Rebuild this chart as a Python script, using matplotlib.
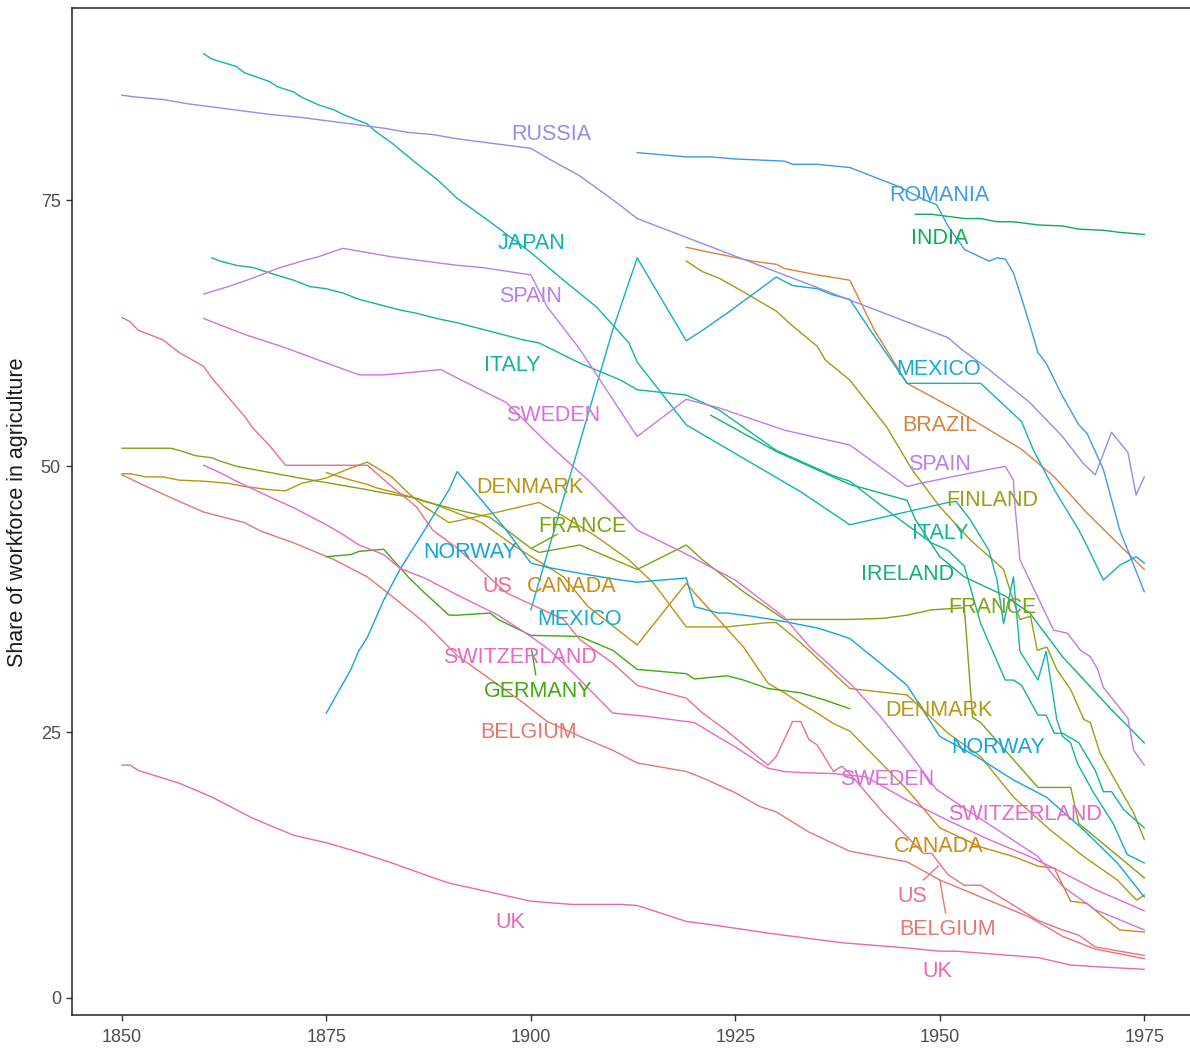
import matplotlib
matplotlib.use("Agg")
import matplotlib.pyplot as plt
from matplotlib.colors import to_rgb

plt.rcParams['font.family'] = ['Liberation Sans', 'DejaVu Sans']

# share of workforce in agriculture
belgium_years = [1850, 1853, 1857, 1860, 1865, 1867, 1871, 1876, 1880, 1883, 1887, 1891, 1899, 1902, 1906, 1910,
                 1913, 1919, 1921, 1925, 1928, 1930, 1934, 1939, 1946, 1950, 1955, 1961, 1965, 1969, 1975]
belgium_share = [49.2, 48.1, 46.7, 45.7, 44.7, 43.9, 42.8, 41.2, 39.6, 37.8, 35.3, 32.2, 27.8, 26.0, 24.6, 23.3,
                 22.1, 21.3, 20.7, 19.3, 18.0, 17.5, 15.6, 13.8, 12.8, 11.1, 9.5, 7.6, 5.8, 4.6, 3.7]

brazil_years = [1919, 1922, 1924, 1927, 1930, 1931, 1933, 1935, 1939, 1942, 1946, 1952, 1960, 1964, 1968, 1975]
brazil_share = [70.6, 70.1, 69.8, 69.3, 69.0, 68.6, 68.3, 68.0, 67.5, 62.8, 57.8, 55.3, 51.6, 49.0, 45.6, 40.3]

canada_years = [1875, 1878, 1880, 1881, 1883, 1885, 1888, 1891, 1894, 1898, 1904, 1907, 1913, 1919, 1920, 1926,
                1929, 1931, 1933, 1935, 1937, 1939, 1946, 1950, 1955, 1959, 1962, 1964, 1966, 1968, 1970, 1972, 1975]
canada_share = [49.4, 48.7, 48.3, 48.0, 47.6, 47.2, 46.5, 45.6, 44.7, 42.5, 39.6, 36.8, 33.2, 39.0, 38.1, 33.0,
                29.6, 28.7, 27.7, 26.8, 25.8, 25.1, 19.6, 16.0, 14.2, 13.3, 12.4, 12.2, 9.1, 8.9, 7.6, 6.4, 6.2]

denmark_years = [1850, 1851, 1853, 1855, 1857, 1860, 1863, 1865, 1868, 1870, 1872, 1875, 1877.5, 1880, 1883, 1885,
                 1887, 1890, 1896, 1901, 1904, 1908, 1912, 1915, 1919, 1924, 1929, 1930, 1933, 1939, 1946, 1951,
                 1955, 1959, 1963.5, 1967.6, 1971.7, 1973.3, 1974.1, 1975]
denmark_share = [49.3, 49.3, 49.0, 49.0, 48.7, 48.6, 48.4, 48.1, 47.8, 47.7, 48.4, 48.9, 49.7, 50.4, 49.0, 47.5,
                 46.2, 44.7, 45.7, 46.6, 45.3, 43.4, 41.2, 39.0, 34.9, 34.9, 35.3, 35.3, 33.4, 29.1, 28.5, 24.9,
                 22.7, 18.9, 15.8, 13.3, 11.1, 9.8, 9.2, 9.7]

finland_years = [1919, 1921, 1923, 1926, 1930, 1932, 1935, 1936, 1939, 1943.5, 1946.6, 1950, 1953.7, 1957.8, 1958.8,
                 1959.8, 1961.1, 1961.9, 1963.1, 1964.3, 1966, 1967.6, 1968.4, 1969.6, 1971.2, 1973.7, 1975]
finland_share = [69.3, 68.3, 67.7, 66.4, 64.6, 63.2, 61.3, 60.0, 58.1, 53.7, 49.7, 46.2, 43.1, 40.3, 37.8,
                 35.6, 35.9, 32.7, 33.0, 30.9, 29.0, 26.2, 25.9, 23.0, 20.8, 17.4, 14.9]

france_years = [1850, 1856, 1857, 1859, 1861, 1862, 1864, 1871, 1880, 1882, 1886, 1887, 1891, 1895, 1900, 1901, 1906,
                1913, 1919, 1921, 1926, 1931, 1939, 1943, 1946, 1949, 1953, 1954, 1955, 1962, 1966, 1967, 1975]
france_share = [51.7, 51.7, 51.5, 51.0, 50.8, 50.5, 50.0, 49.0, 47.8, 47.5, 47.0, 46.7, 45.9, 45.2, 42.3, 41.9, 42.6,
                40.3, 42.6, 41.2, 38.2, 35.6, 35.6, 35.7, 36.0, 36.5, 36.7, 26.4, 25.9, 19.8, 19.8, 16.4, 11.3]

germany_years = [1875, 1878, 1879, 1882, 1885, 1887, 1890, 1891, 1895, 1896, 1900, 1906, 1910, 1913, 1919, 1920,
                 1924, 1926, 1929, 1933, 1936, 1939]
germany_share = [41.5, 41.7, 42.0, 42.2, 39.6, 38.1, 36.0, 36.0, 36.2, 35.6, 34.1, 34.0, 32.7, 30.9, 30.5, 30.0,
                 30.3, 29.9, 29.1, 28.7, 28.0, 27.2]

india_years = [1947, 1949, 1953, 1955, 1957, 1959, 1962, 1965, 1967, 1970, 1972, 1975]
india_share = [73.7, 73.7, 73.3, 73.3, 73.0, 73.0, 72.7, 72.6, 72.3, 72.2, 72.0, 71.8]

ireland_years = [1922, 1930, 1939, 1946, 1947, 1950, 1953, 1958, 1961, 1965, 1968, 1971, 1975]
ireland_share = [54.8, 51.4, 48.3, 46.8, 45.0, 41.5, 39.6, 37.8, 36.2, 32.1, 29.6, 27.1, 24.0]

italy_years = [1861, 1862, 1864, 1866, 1868, 1871, 1873, 1875, 1877, 1879, 1881, 1884, 1886, 1888.5, 1891, 1895,
               1899, 1901, 1906, 1911, 1913, 1919, 1923, 1930, 1937, 1939, 1944, 1949, 1951, 1953, 1955, 1958,
               1959, 1960, 1962, 1963, 1964, 1965, 1967, 1969, 1970, 1971, 1972.5, 1975]
italy_share = [69.6, 69.3, 68.9, 68.7, 68.2, 67.5, 66.9, 66.7, 66.3, 65.7, 65.3, 64.7, 64.4, 63.9, 63.5, 62.7,
               61.9, 61.6, 59.7, 58.1, 57.2, 56.7, 55.3, 51.5, 49.1, 48.6, 45.6, 42.8, 42.1, 40.6, 35.2, 29.9,
               29.9, 29.4, 26.6, 26.6, 24.9, 24.9, 24.0, 21.4, 19.4, 19.4, 17.7, 16.0]

japan_years = [1860, 1861, 1864, 1865, 1868, 1869, 1871, 1872, 1874, 1876, 1877, 1880, 1881, 1883, 1886, 1888.5,
               1891, 1895, 1900, 1904, 1908, 1912, 1913, 1919, 1933, 1939, 1951, 1952, 1953.7, 1956, 1957, 1957.8,
               1959, 1959.8, 1962, 1963, 1964.3, 1965, 1966, 1966.8, 1968.8, 1971.2, 1972.9, 1975]
japan_share = [88.8, 88.3, 87.6, 87.0, 86.2, 85.7, 85.2, 84.7, 84.0, 83.5, 83.1, 82.2, 81.5, 80.4, 78.5, 77.0,
               75.2, 73.0, 70.1, 67.5, 65.0, 61.6, 59.8, 53.9, 47.6, 44.5, 46.6, 46.7, 45.0, 42.1, 39.3, 35.2,
               39.6, 32.6, 29.9, 32.6, 26.2, 24.6, 24.0, 22.1, 19.3, 16.4, 13.5, 12.7]

mexico_years = [1900, 1910, 1913, 1919, 1921, 1924, 1927, 1930, 1932, 1935, 1937, 1939, 1941.5, 1946, 1955, 1960,
                1961.4, 1964, 1967, 1968, 1970, 1972, 1974, 1975]
mexico_share = [36.5, 62.8, 69.6, 61.8, 62.8, 64.4, 66.1, 67.8, 67.0, 66.7, 66.1, 65.7, 62.8, 57.8, 57.8, 54.2,
                51.6, 47.8, 44.0, 42.5, 39.3, 40.7, 41.5, 40.9]

norway_years = [1875, 1878, 1879, 1880, 1882, 1884, 1887, 1890, 1891, 1894, 1897, 1900, 1902, 1907, 1911, 1913,
                1919, 1920, 1923, 1924, 1927, 1931, 1935, 1937.5, 1939, 1942.7, 1946, 1950, 1954.5, 1959, 1963,
                1967.6, 1971.7, 1975]
norway_share = [26.8, 30.9, 32.7, 33.9, 37.4, 40.3, 44.0, 47.8, 49.5, 46.8, 44.0, 40.9, 40.5, 39.8, 39.3, 39.1,
                39.5, 36.8, 36.2, 36.2, 35.9, 35.4, 34.8, 34.2, 33.8, 31.5, 29.4, 24.6, 22.7, 20.5, 18.9,
                15.8, 12.7, 9.5]

romania_years = [1913, 1919, 1922, 1925, 1931, 1932, 1935, 1939, 1945, 1948, 1949.6, 1951, 1953, 1956, 1957, 1958,
                 1959, 1960, 1961, 1962, 1963, 1965, 1967, 1968, 1970, 1972, 1975]
romania_share = [79.5, 79.1, 79.1, 78.9, 78.7, 78.4, 78.4, 78.1, 76.3, 75.1, 74.6, 72.6, 70.4, 69.3, 69.6, 69.5,
                 68.2, 65.8, 63.3, 60.7, 59.7, 56.6, 53.9, 53.1, 49.7, 44.0, 38.2]

russia_years = [1850, 1852, 1855, 1858, 1861, 1864, 1868, 1872, 1875, 1879, 1882, 1885, 1888, 1891, 1895, 1900,
                1902, 1906, 1910.5, 1913, 1951, 1952.5, 1956, 1961, 1965, 1967.5, 1969, 1971, 1973, 1974, 1975]
russia_share = [84.9, 84.7, 84.5, 84.1, 83.8, 83.5, 83.1, 82.8, 82.5, 82.1, 81.8, 81.4, 81.2, 80.8, 80.4, 79.9,
                79.0, 77.3, 74.8, 73.3, 62.1, 61.1, 59.1, 56.0, 52.8, 50.3, 49.2, 53.2, 51.3, 47.3, 49.0]

spain_years = [1860, 1863, 1866, 1869, 1872, 1874, 1877, 1880, 1883, 1887, 1891, 1894, 1900, 1902, 1904, 1906,
               1913, 1919, 1923, 1931, 1939, 1946, 1947.6, 1954, 1958, 1959, 1959.2, 1959.8, 1963.9, 1965.6,
               1967.2, 1968.4, 1969.3, 1970, 1973, 1973.7, 1975]
spain_share = [66.2, 66.9, 67.7, 68.6, 69.3, 69.7, 70.5, 70.1, 69.7, 69.3, 68.9, 68.7, 68.0, 65.0, 63.0, 61.0,
               52.8, 56.3, 55.5, 53.4, 52.0, 48.1, 48.4, 49.4, 50.0, 48.7, 46.2, 41.2, 34.6, 34.3,
               32.7, 32.1, 30.9, 29.2, 26.3, 23.3, 21.9]

sweden_years = [1860, 1862, 1865, 1869, 1870.5, 1874, 1879, 1882, 1885, 1889, 1891, 1897, 1902, 1907, 1913, 1918.6,
                1925, 1931, 1934, 1939.4, 1942.7, 1946, 1949.6, 1954.5, 1962, 1965, 1969, 1975]
sweden_share = [63.9, 63.3, 62.4, 61.4, 61.0, 60.0, 58.6, 58.6, 58.8, 59.1, 58.3, 56.0, 52.2, 48.7, 44.0, 41.9,
                39.3, 35.8, 33.1, 29.3, 26.5, 23.3, 19.6, 17.1, 13.3, 10.5, 8.3, 6.4]

switzerland_years = [1860, 1862, 1864, 1867, 1869, 1871, 1875, 1877, 1879, 1882, 1884, 1887, 1889, 1891, 1896, 1900,
                     1902.3, 1905, 1910, 1914, 1920, 1921.5, 1925, 1929, 1931, 1933, 1937, 1941, 1946, 1951, 1956,
                     1961, 1965, 1969, 1975]
switzerland_share = [50.1, 49.4, 48.6, 47.5, 46.8, 46.1, 44.5, 43.6, 42.6, 41.7, 40.4, 39.5, 38.7, 37.9, 36.0, 34.0,
                     32.7, 30.7, 26.8, 26.5, 25.9, 25.2, 23.6, 21.6, 21.3, 21.2, 21.1, 20.8, 18.6, 16.7, 14.9,
                     13.3, 11.8, 10.2, 8.2]

uk_years = [1850, 1851, 1852, 1857, 1861, 1866, 1871, 1875, 1879, 1883, 1887, 1890, 1893, 1900, 1905, 1911, 1913,
            1919, 1922, 1929, 1938, 1946, 1950, 1952, 1962, 1966, 1970, 1975]
uk_share = [21.9, 21.9, 21.4, 20.2, 18.9, 16.9, 15.3, 14.6, 13.7, 12.7, 11.6, 10.8, 10.3, 9.1, 8.8, 8.8, 8.7,
            7.2, 6.9, 6.1, 5.2, 4.7, 4.4, 4.4, 3.8, 3.1, 2.9, 2.7]

us_years = [1850, 1851, 1852, 1855, 1857, 1860, 1861, 1864, 1865, 1866, 1868, 1870, 1880, 1883, 1886, 1888, 1891,
            1897, 1904, 1906, 1910, 1913, 1919, 1921, 1924, 1929, 1930, 1932, 1933, 1934, 1935, 1937, 1938, 1939,
            1943, 1948, 1949, 1951, 1953, 1955, 1958, 1962, 1965, 1967, 1969, 1975]
us_share = [64.0, 63.6, 62.8, 61.9, 60.7, 59.4, 58.3, 55.6, 54.7, 53.6, 52.0, 50.1, 50.1, 48.1, 46.2, 44.0, 42.3,
            38.1, 35.6, 33.7, 31.5, 29.4, 28.2, 26.8, 25.1, 21.9, 22.7, 26.0, 26.0, 24.3, 23.8, 21.3, 21.8, 21.1,
            17.5, 13.6, 13.6, 11.6, 10.6, 10.6, 9.2, 7.3, 6.4, 5.9, 4.8, 4.0]

countries = ['BELGIUM', 'BRAZIL', 'CANADA', 'DENMARK', 'FINLAND', 'FRANCE', 'GERMANY', 'INDIA', 'IRELAND',
             'ITALY', 'JAPAN', 'MEXICO', 'NORWAY', 'ROMANIA', 'RUSSIA', 'SPAIN', 'SWEDEN', 'SWITZERLAND',
             'UK', 'US']
colors = ['#F8766D', '#EA8331', '#D89000', '#C09B00', '#A3A500', '#7CAE00', '#39B600', '#00BB4E', '#00BF7D',
          '#00C1A3', '#00BFC4', '#00BAE0', '#00B0F6', '#35A2FF', '#9590FF', '#C77CFF', '#E76BF3', '#FA62DB',
          '#FF62BC', '#FF6C91']
series = [
    (belgium_years, belgium_share), (brazil_years, brazil_share), (canada_years, canada_share),
    (denmark_years, denmark_share), (finland_years, finland_share), (france_years, france_share),
    (germany_years, germany_share), (india_years, india_share), (ireland_years, ireland_share),
    (italy_years, italy_share), (japan_years, japan_share), (mexico_years, mexico_share),
    (norway_years, norway_share), (romania_years, romania_share), (russia_years, russia_share),
    (spain_years, spain_share), (sweden_years, sweden_share), (switzerland_years, switzerland_share),
    (uk_years, uk_share), (us_years, us_share),
]

# repelled label spots around 1900 and 1950
labels_1900 = [('RUSSIA', 1902.5, 81.4), ('JAPAN', 1900.1, 71.2), ('SPAIN', 1900.0, 66.2), ('ITALY', 1897.7, 59.7),
               ('SWEDEN', 1902.7, 55.0), ('DENMARK', 1899.9, 48.2), ('FRANCE', 1906.3, 44.5),
               ('NORWAY', 1892.6, 42.1), ('US', 1895.9, 38.9), ('CANADA', 1905.0, 38.9), ('MEXICO', 1906.0, 35.8),
               ('SWITZERLAND', 1898.7, 32.2), ('GERMANY', 1900.9, 29.0), ('BELGIUM', 1899.7, 25.2),
               ('UK', 1897.5, 7.3)]
labels_1950 = [('ROMANIA', 1950.0, 75.7), ('INDIA', 1950.0, 71.6), ('MEXICO', 1949.9, 59.3), ('BRAZIL', 1950.0, 54.0),
               ('SPAIN', 1950.0, 50.4), ('FINLAND', 1956.4, 47.0), ('ITALY', 1950.0, 43.9),
               ('IRELAND', 1946.0, 40.0), ('FRANCE', 1956.4, 36.9), ('DENMARK', 1949.9, 27.2),
               ('NORWAY', 1957.1, 23.8), ('SWEDEN', 1943.6, 20.7), ('SWITZERLAND', 1960.4, 17.5),
               ('CANADA', 1949.9, 14.4), ('US', 1946.6, 9.7), ('BELGIUM', 1951.0, 6.6), ('UK', 1949.7, 2.7)]
leaders = [('FRANCE', (1900.1, 42.3), (1903.2, 43.6)), ('GERMANY', (1900.1, 32.7), (1900.6, 30.4)),
           ('US', (1949.8, 12.4), (1948.0, 11.1)), ('BELGIUM', (1950.0, 11.1), (1950.7, 8.0))]


def mute(c, sat=0.87, dark=0.97):
    # the reference hues come out a little greyer than the stock ggplot palette
    r, g, b = to_rgb(c)
    grey = 0.299 * r + 0.587 * g + 0.114 * b
    return tuple(min(1, max(0, (grey + sat * (v - grey)) * dark)) for v in (r, g, b))


color_of = {name: mute(c) for name, c in zip(countries, colors)}

fig = plt.figure(figsize=(11.9, 10.5), dpi=100)
ax = fig.add_axes([72 / 1190, 35 / 1050, 1123 / 1190, 1007 / 1050])

for name, (yrs, vals) in zip(countries, series):
    ax.plot(yrs, vals, color=color_of[name], lw=1.0, solid_joinstyle='round')

for name, p0, p1 in leaders:
    ax.plot([p0[0], p1[0]], [p0[1], p1[1]], color=color_of[name], lw=1.0)

for name, x, y in labels_1900 + labels_1950:
    ax.text(x, y - 0.2, name, color=color_of[name], fontsize=15.5, ha='center', va='center')

ax.set_xlim(1843.9, 1981.2)
ax.set_ylim(-1.6, 93.1)
ax.set_xticks([1850, 1875, 1900, 1925, 1950, 1975])
ax.set_yticks([0, 25, 50, 75])
ax.tick_params(axis='both', length=4, width=1, color='#333333', labelcolor='#4D4D4D', labelsize=13)
ax.tick_params(axis='x', pad=6)
ax.tick_params(axis='y', pad=4)
for side in ['left', 'bottom', 'top']:
    ax.spines[side].set_color('#222222')
    ax.spines[side].set_linewidth(1.1)
ax.spines['right'].set_visible(False)

fig.text(18 / 1190, 1 - 512 / 1050, 'Share of workforce in agriculture', rotation=90,
         ha='center', va='center', fontsize=15.5, color='#1A1A1A')

fig.savefig('out.png', dpi=100)
